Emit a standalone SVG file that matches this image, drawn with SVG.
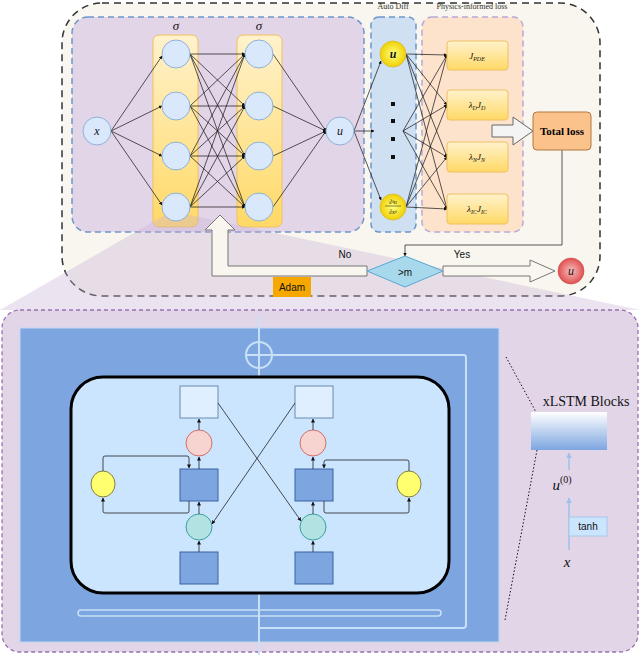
<svg xmlns="http://www.w3.org/2000/svg" width="640" height="655" viewBox="0 0 640 655">
<defs>
<marker id="ah" viewBox="0 0 10 10" refX="9" refY="5" markerWidth="5" markerHeight="5" orient="auto"><path d="M0,0 L10,5 L0,10 z" fill="#111"/></marker>
<marker id="lb" viewBox="0 0 10 10" refX="9" refY="5" markerWidth="4" markerHeight="4" orient="auto"><path d="M0,0 L10,5 L0,10 z" fill="#9cc0ea"/></marker>
<linearGradient id="gy" x1="0" y1="0" x2="0" y2="1"><stop offset="0" stop-color="#fff2cc"/><stop offset="1" stop-color="#ffd966"/></linearGradient>
<linearGradient id="gb" x1="0" y1="0" x2="0" y2="1"><stop offset="0" stop-color="#ffffff"/><stop offset="1" stop-color="#7da6e0"/></linearGradient>
<radialGradient id="gr"><stop offset="0" stop-color="#f8c0c0"/><stop offset="1" stop-color="#e05050"/></radialGradient>
<radialGradient id="gyl"><stop offset="0" stop-color="#ffff80"/><stop offset="1" stop-color="#f0d000"/></radialGradient>
</defs>
<style>
.n{fill:#dae8fc;stroke:#8fb0d8;stroke-width:1}
.c{stroke:#111;stroke-width:0.7;fill:none;marker-end:url(#ah)}
.t{font-family:"Liberation Serif",serif;font-style:italic;fill:#111}
.s{font-family:"Liberation Sans",sans-serif;fill:#111}
.lb{stroke:#c8e0f8;stroke-width:2;fill:none}
.k{stroke:#222;stroke-width:0.8;fill:none;marker-end:url(#ah)}
</style>
<rect x="62" y="3" width="538" height="293" rx="40" fill="#f8f6ee" stroke="#333" stroke-width="1.5" stroke-dasharray="7,5"/>
<rect x="72" y="17" width="292" height="215" rx="16" fill="#e3d5e8" stroke="#6c96cc" stroke-width="1.5" stroke-dasharray="6,4"/>
<rect x="371" y="17" width="45" height="215" rx="8" fill="#cfe0f3" stroke="#6c96cc" stroke-width="1.5" stroke-dasharray="6,4"/>
<rect x="422" y="17" width="101" height="215" rx="10" fill="#fde3cc" stroke="#b9a8d8" stroke-width="1.5" stroke-dasharray="6,4"/>
<text x="393" y="9" font-size="8" text-anchor="middle" font-family="Liberation Serif,serif" fill="#333">Auto Diff</text>
<text x="472" y="9" font-size="8" text-anchor="middle" font-family="Liberation Serif,serif" fill="#333">Physics-informed loss</text>
<rect x="153" y="35" width="45" height="192" rx="6" fill="url(#gy)" stroke="#f0c060"/>
<rect x="237" y="35" width="45" height="192" rx="6" fill="url(#gy)" stroke="#f0c060"/>
<text x="176" y="30" class="t" font-size="13" text-anchor="middle">σ</text>
<text x="259" y="30" class="t" font-size="13" text-anchor="middle">σ</text>
<polygon points="165,215 190,215 640,310 0,310" fill="#c8b0d8" opacity="0.35"/>
<g id="connectors">
<line class="c" x1="111" y1="131" x2="162" y2="56"/><line class="c" x1="111" y1="131" x2="162" y2="106"/><line class="c" x1="111" y1="131" x2="162" y2="156"/><line class="c" x1="111" y1="131" x2="162" y2="205"/>
<line class="c" x1="190" y1="54" x2="245" y2="54"/><line class="c" x1="190" y1="54" x2="245" y2="106"/><line class="c" x1="190" y1="54" x2="245" y2="156"/><line class="c" x1="190" y1="54" x2="245" y2="207"/>
<line class="c" x1="190" y1="106" x2="245" y2="54"/><line class="c" x1="190" y1="106" x2="245" y2="106"/><line class="c" x1="190" y1="106" x2="245" y2="156"/><line class="c" x1="190" y1="106" x2="245" y2="207"/>
<line class="c" x1="190" y1="156" x2="245" y2="54"/><line class="c" x1="190" y1="156" x2="245" y2="106"/><line class="c" x1="190" y1="156" x2="245" y2="156"/><line class="c" x1="190" y1="156" x2="245" y2="207"/>
<line class="c" x1="190" y1="207" x2="245" y2="54"/><line class="c" x1="190" y1="207" x2="245" y2="106"/><line class="c" x1="190" y1="207" x2="245" y2="156"/><line class="c" x1="190" y1="207" x2="245" y2="207"/>
<line class="c" x1="273" y1="54" x2="326" y2="131"/><line class="c" x1="273" y1="106" x2="326" y2="131"/><line class="c" x1="273" y1="156" x2="326" y2="131"/><line class="c" x1="273" y1="207" x2="326" y2="131"/>
<line class="c" x1="354" y1="131" x2="381" y2="61"/><line class="c" x1="354" y1="131" x2="381" y2="200"/><line class="c" x1="354" y1="131" x2="374" y2="131" stroke-width="1.2"/>
<line class="c" x1="406" y1="54" x2="447" y2="55"/><line class="c" x1="406" y1="54" x2="447" y2="105"/><line class="c" x1="406" y1="54" x2="447" y2="157"/><line class="c" x1="406" y1="54" x2="447" y2="209"/>
<line class="c" x1="403" y1="131" x2="447" y2="55"/><line class="c" x1="403" y1="131" x2="447" y2="105"/><line class="c" x1="403" y1="131" x2="447" y2="157"/><line class="c" x1="403" y1="131" x2="447" y2="209"/>
<line class="c" x1="406" y1="207" x2="447" y2="55"/><line class="c" x1="406" y1="207" x2="447" y2="105"/><line class="c" x1="406" y1="207" x2="447" y2="157"/><line class="c" x1="406" y1="207" x2="447" y2="209"/>
<path class="c" d="M562,150 V245 H405 V256"/>
<path d="M492,125 H513 V117 L533,131 L513,145 V137 H492 Z" fill="#f4f4f4" stroke="#666"/>
<path d="M367,266 H228 V230 H235 L220,215 L205,230 H212 V276 H367 Z" fill="#f8f6ee" stroke="#777"/>
<path d="M443,266 H530 V260 L555,271 L530,282 V276 H443 Z" fill="#f8f6ee" stroke="#777"/>
</g>
<g id="nodes">
<circle class="n" cx="97" cy="131" r="14"/><text class="t" x="97" y="135" font-size="12" text-anchor="middle">x</text>
<circle class="n" cx="176" cy="54" r="14"/><circle class="n" cx="176" cy="106" r="14"/><circle class="n" cx="176" cy="156" r="14"/><circle class="n" cx="176" cy="207" r="14"/>
<circle class="n" cx="259" cy="54" r="14"/><circle class="n" cx="259" cy="106" r="14"/><circle class="n" cx="259" cy="156" r="14"/><circle class="n" cx="259" cy="207" r="14"/>
<circle class="n" cx="340" cy="131" r="14"/><text class="t" x="340" y="135" font-size="12" text-anchor="middle">u</text>
<circle cx="393" cy="54" r="13" fill="url(#gyl)" stroke="#d8c040"/><text class="t" x="393" y="58" font-size="12" text-anchor="middle" font-weight="bold">u</text>
<circle cx="393" cy="207" r="13" fill="url(#gyl)" stroke="#d8c040"/>
<text class="t" x="393" y="204" font-size="6" text-anchor="middle">∂ᵏu</text><line x1="385" y1="206" x2="401" y2="206" stroke="#111" stroke-width="0.5"/><text class="t" x="393" y="214" font-size="6" text-anchor="middle">∂xᵏ</text>
<rect x="391" y="102" width="4" height="4" fill="#111"/><rect x="391" y="119" width="4" height="4" fill="#111"/><rect x="391" y="137" width="4" height="4" fill="#111"/><rect x="391" y="155" width="4" height="4" fill="#111"/>
<rect x="447" y="41" width="61" height="29" rx="3" fill="url(#gy)" stroke="#f0c060"/><text class="t" x="477" y="59" font-size="9" text-anchor="middle">J<tspan font-size="6" dy="2">PDE</tspan></text>
<rect x="447" y="90" width="61" height="30" rx="3" fill="url(#gy)" stroke="#f0c060"/><text class="t" x="477" y="108" font-size="9" text-anchor="middle">λ<tspan font-size="6" dy="2">D</tspan><tspan dy="-2">J</tspan><tspan font-size="6" dy="2">D</tspan></text>
<rect x="447" y="142" width="61" height="30" rx="3" fill="url(#gy)" stroke="#f0c060"/><text class="t" x="477" y="160" font-size="9" text-anchor="middle">λ<tspan font-size="6" dy="2">N</tspan><tspan dy="-2">J</tspan><tspan font-size="6" dy="2">N</tspan></text>
<rect x="447" y="194" width="61" height="30" rx="3" fill="url(#gy)" stroke="#f0c060"/><text class="t" x="477" y="212" font-size="9" text-anchor="middle">λ<tspan font-size="6" dy="2">IC</tspan><tspan dy="-2">J</tspan><tspan font-size="6" dy="2">IC</tspan></text>
<rect x="533" y="112" width="58" height="38" rx="4" fill="#fcc28c" stroke="#b07840"/><text x="562" y="135" font-size="11" font-weight="bold" text-anchor="middle" font-family="Liberation Serif,serif">Total loss</text>
<polygon points="367,271 405,256 443,271 405,287" fill="#a8d8ec" stroke="#5aa8d0"/><text class="s" x="405" y="276" font-size="10" text-anchor="middle">&gt;m</text>
<circle cx="571" cy="271" r="13" fill="url(#gr)" stroke="#c04040" stroke-width="0.5"/><text class="t" x="571" y="275" font-size="12" text-anchor="middle" fill="#800">u</text>
<rect x="273" y="277" width="38" height="20" fill="#f7a800"/><text class="s" x="292" y="291" font-size="10" text-anchor="middle">Adam</text>
<text class="s" x="345" y="258" font-size="10" text-anchor="middle">No</text>
<text class="s" x="462" y="258" font-size="10" text-anchor="middle">Yes</text>
</g>
<g id="xlstm">
<rect x="2" y="310" width="636" height="342" rx="18" fill="#e3d5e8" stroke="#9870b0" stroke-width="1.3" stroke-dasharray="4,3"/>
<rect x="20" y="328" width="479" height="314" fill="#7da6e0" stroke="#c0d8f0"/>
<line class="lb" x1="259" y1="316" x2="259" y2="655" stroke-width="1.5"/>
<circle cx="259" cy="355" r="13" fill="none" stroke="#c8e0f8" stroke-width="2"/><line class="lb" x1="246" y1="355" x2="272" y2="355"/>
<path class="lb" d="M272,355 H464 Q466,355 466,358 V625 Q466,628 463,628 H259"/>
<rect x="71" y="377" width="378" height="216" rx="32" fill="#cce5ff" stroke="#000" stroke-width="3"/>
<rect x="78" y="610" width="363" height="6" rx="3" fill="none" stroke="#c8e0f8" stroke-width="1.5"/>
<rect x="180" y="386" width="38" height="32" fill="#e0efff" stroke="#6a8ab0"/>
<rect x="295" y="386" width="38" height="32" fill="#e0efff" stroke="#6a8ab0"/>
<ellipse cx="199" cy="443" rx="13" ry="13" fill="#f8d4d0" stroke="#d07070"/>
<ellipse cx="313" cy="443" rx="13" ry="13" fill="#f8d4d0" stroke="#d07070"/>
<rect x="180" y="469" width="38" height="32" fill="#7da6e0" stroke="#3a60a0"/>
<rect x="295" y="469" width="38" height="32" fill="#7da6e0" stroke="#3a60a0"/>
<ellipse cx="199" cy="527" rx="13" ry="13" fill="#b2e2e2" stroke="#40a0a0"/>
<ellipse cx="313" cy="527" rx="13" ry="13" fill="#b2e2e2" stroke="#40a0a0"/>
<rect x="180" y="552" width="38" height="32" fill="#7da6e0" stroke="#3a60a0"/>
<rect x="295" y="552" width="38" height="32" fill="#7da6e0" stroke="#3a60a0"/>
<ellipse cx="103" cy="484" rx="12" ry="13" fill="#ffff70" stroke="#808040"/>
<ellipse cx="409" cy="484" rx="12" ry="13" fill="#ffff70" stroke="#808040"/>
<line class="k" x1="199" y1="552" x2="199" y2="541"/><line class="k" x1="199" y1="514" x2="199" y2="502"/><line class="k" x1="199" y1="469" x2="199" y2="457"/><line class="k" x1="199" y1="430" x2="199" y2="419"/>
<line class="k" x1="313" y1="552" x2="313" y2="541"/><line class="k" x1="313" y1="514" x2="313" y2="502"/><line class="k" x1="313" y1="469" x2="313" y2="457"/><line class="k" x1="313" y1="430" x2="313" y2="419"/>
<path class="k" d="M103,471 V458 Q103,456 105,456 H187 Q189,456 189,458 V468"/>
<path class="k" d="M189,501 V511 Q189,513 187,513 H105 Q103,513 103,511 V498"/>
<path class="k" d="M409,471 V462 Q409,460 407,460 H326 Q324,460 324,462 V468"/>
<path class="k" d="M324,501 V511 Q324,513 326,513 H407 Q409,513 409,511 V498"/>
<line class="k" x1="218" y1="403" x2="301" y2="521"/>
<line class="k" x1="295" y1="403" x2="212" y2="524"/>
<text x="586" y="406" font-size="14" text-anchor="middle" font-family="Liberation Serif,serif" fill="#111">xLSTM Blocks</text>
<rect x="531" y="412" width="76" height="38" fill="url(#gb)"/>
<line x1="506" y1="357" x2="536" y2="412" stroke="#111" stroke-dasharray="1.5,2"/>
<line x1="537" y1="450" x2="505" y2="620" stroke="#111" stroke-dasharray="1.5,2"/>
<line x1="569" y1="550" x2="569" y2="498" stroke="#9cc0ea" stroke-width="1.5" marker-end="url(#lb)"/>
<line x1="569" y1="470" x2="569" y2="453" stroke="#9cc0ea" stroke-width="1.5" marker-end="url(#lb)"/>
<rect x="569" y="517" width="38" height="19" fill="#cce5ff" stroke="#a8c8e8"/><text class="s" x="588" y="530" font-size="10" text-anchor="middle" fill="#333">tanh</text>
<text class="t" x="562" y="490" font-size="15" text-anchor="middle">u<tspan font-style="normal" font-size="10" dy="-7">(0)</tspan></text>
<text class="t" x="567" y="567" font-size="15" text-anchor="middle">x</text>
</g>
</svg>
